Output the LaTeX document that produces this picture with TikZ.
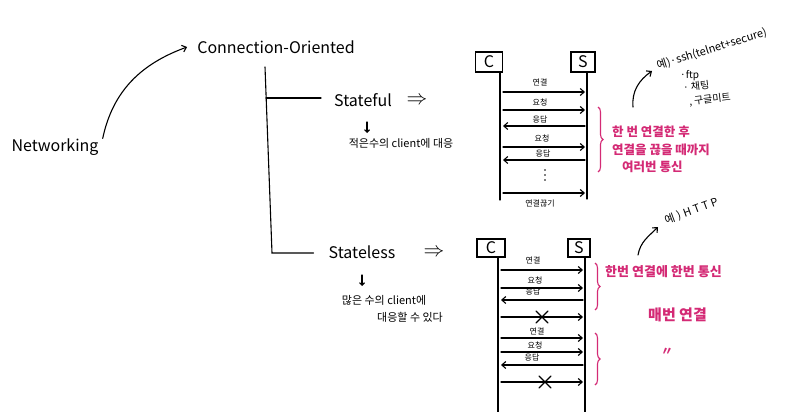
\documentclass[tikz,border=0pt]{standalone}
\usepackage{fontspec}
\setmainfont{Noto Sans CJK KR}
\usetikzlibrary{arrows.meta,decorations.pathreplacing}
\definecolor{pinkc}{HTML}{D42A75}
\begin{document}
\begin{tikzpicture}[x=1pt,y=-1pt,
  every node/.style={inner sep=0pt},
  ln/.style={line width=1.1pt, line cap=round},
  arr/.style={ln,-{Straight Barb[length=4pt,width=7pt]}},
  seqbox/.style={draw,line width=1.2pt,minimum height=20pt,font=\fontsize{16}{16}\selectfont},
  big/.style={font=\fontsize{16}{18}\selectfont},
  mid/.style={font=\fontsize{11}{13}\selectfont},
  lbl/.style={font=\fontsize{8}{9}\selectfont},
  exs/.style={font=\fontsize{10}{11}\selectfont},
  imp/.style={font=\fontsize{22}{22}\selectfont},
  pk/.style={text=pinkc,font=\fontsize{12.5}{14}\selectfont\bfseries},
  brc/.style={draw=pinkc,line width=1.1pt,decorate,decoration={brace,amplitude=5pt}},
]
\useasboundingbox[fill=white] (0,0) rectangle (795,412);

% ---- left tree ----
\node[big] (net) at (55,147) {Networking};
\node[big] (conn) at (276,47) {Connection-Oriented};
\draw[arr] ([xshift=4pt]net.north east) to[out=78,in=200] ([xshift=-10pt]conn.west);

\coordinate (t0) at (265,67);
\coordinate (t1) at (266,98);
\coordinate (t2) at (272,253);

\node[big] (sf) at (363,100) {Stateful};
\node[imp] (sfimp) at (417,101) {$\Rightarrow$};
\node[mid] (sfc) at (401,143) {적은수의 client에 대응};
\coordinate (sfarA) at (367,122);
\coordinate (sfarB) at (367,133);
\draw[arr,-{Straight Barb[length=2.5pt,width=5pt]}] (sfarA) -- (sfarB);

\node[big] (sl) at (362,252) {Stateless};
\node[imp] (slimp) at (434,253) {$\Rightarrow$};
\node[mid] (slc1) at (384,300) {많은 수의 client에};
\node[mid] (slc2) at (410,317) {대응할 수 있다};
\coordinate (slarA) at (362,275);
\coordinate (slarB) at (362,286);
\draw[arr,-{Straight Barb[length=2.5pt,width=5pt]}] (slarA) -- (slarB);

\draw[ln] (t0) -- (t2) -- ([xshift=-15pt]sl.west |- t2);
\draw[ln] (t1) -- ([xshift=-13pt]sf.west |- t1);

% ---- stateful sequence ----
\node[seqbox,minimum width=27pt] (fc) at (489,62) {C};
\node[seqbox,minimum width=24pt] (fs) at (583,62) {S};
\coordinate (fcl) at (500,200);
\coordinate (fsl) at (587,199);
\draw[ln] (fc.south -| fcl) -- (fcl);
\draw[ln] (fs.south -| fsl) -- (fsl);
\foreach \i/\y in {1/92,2/110,3/126,4/147,5/160,6/193}{
  \coordinate (fa\i) at (503,\y);
  \coordinate (fb\i) at (585,\y);
}
\draw[arr] (fa1) -- (fb1);
\draw[arr] (fa2) -- (fb2);
\draw[arr] (fb3) -- (fa3);
\draw[arr] (fa4) -- (fb4);
\draw[arr] (fb5) -- (fa5);
\draw[arr] (fa6) -- (fb6);
\node[lbl] (fl1) at (540,82) {연결};
\node[lbl] (fl2) at (540,102) {요청};
\node[lbl] (fl3) at (540,120) {응답};
\node[lbl] (fl4) at (542,138) {요청};
\node[lbl] (fl5) at (543,154) {응답};
\fill (545,170) circle (0.9pt) (545,175) circle (0.9pt) (545,180) circle (0.9pt);
\node[lbl] (fl6) at (540,204) {연결끊기};

\draw[brc] (598,107) -- (598,172);
\node[pk,anchor=west] (p1) at (612,132) {한 번 연결한 후};
\node[pk,anchor=west] (p2) at (612,150) {연결을 끊을 때까지};
\node[pk,anchor=west] (p3) at (622,167) {여러번 통신};

\coordinate (ea) at (633,107);
\coordinate (eb) at (652,71);
\draw[arr] (ea) to[out=95,in=215] (eb);
\node[exs,anchor=west,rotate=17,font=\fontsize{11}{12}\selectfont] (ex1) at (657,66) {예)·ssh(telnet+secure)};
\node[exs,anchor=west] (ex2) at (680,76) {·ftp};
\node[exs,anchor=west,rotate=7] (ex3) at (683,88) {· 채팅};
\node[exs,anchor=west,rotate=7] (ex4) at (689,102) {, 구글미트};

% ---- stateless sequence ----
\node[seqbox,minimum width=28pt,minimum height=18pt] (lc) at (491,248) {C};
\node[seqbox,minimum width=22pt,minimum height=18pt] (ls) at (579,248) {S};
\coordinate (lcl) at (498,412);
\coordinate (lsl) at (585,412);
\draw[ln] (lc.south -| lcl) -- (lcl);
\draw[ln] (ls.south -| lsl) -- (lsl);
\foreach \i/\y in {1/270,2/288,3/300,4/317,5/338,6/352,7/365,8/382}{
  \coordinate (la\i) at (501,\y);
  \coordinate (lb\i) at (583,\y);
}
\draw[arr] (la1) -- (lb1);
\draw[arr] (la2) -- (lb2);
\draw[arr] (lb3) -- (la3);
\draw[arr] (la4) -- (lb4);
\draw[arr] (la5) -- (lb5);
\draw[arr] (la6) -- (lb6);
\draw[arr] (lb7) -- (la7);
\draw[arr] (la8) -- (lb8);
\node[lbl] (ll1) at (533,260) {연결};
\node[lbl] (ll2) at (535,280) {요청};
\node[lbl] (ll3) at (533,292) {응답};
\node[lbl] (ll5) at (537,331) {연결};
\node[lbl] (ll6) at (535,345) {요청};
\node[lbl] (ll7) at (532,358) {응답};
\draw[ln] (536,311) -- (548,323) (536,323) -- (548,311);
\draw[ln] (539,376) -- (551,388) (539,388) -- (551,376);

\draw[brc] (595,263) -- (595,310);
\draw[brc] (595,333) -- (595,385);
\node[pk,anchor=west,font=\fontsize{13}{15}\selectfont\bfseries] (p4) at (605,272) {한번 연결에 한번 통신};
\node[pk,anchor=west,font=\fontsize{15}{17}\selectfont\bfseries] (p5) at (648,315) {매번 연결};
\node[pk,font=\fontsize{12}{14}\selectfont\bfseries] (p6) at (667,352) {〃};

\coordinate (ha) at (638,255);
\coordinate (hb) at (658,227);
\draw[arr] (ha) to[out=80,in=225] (hb);
\node[exs,anchor=west,rotate=20,font=\fontsize{11}{12}\selectfont\addfontfeature{LetterSpace=25}] (exh) at (665,221) {예)\hspace{3pt}HTTP};
\end{tikzpicture}
\end{document}
